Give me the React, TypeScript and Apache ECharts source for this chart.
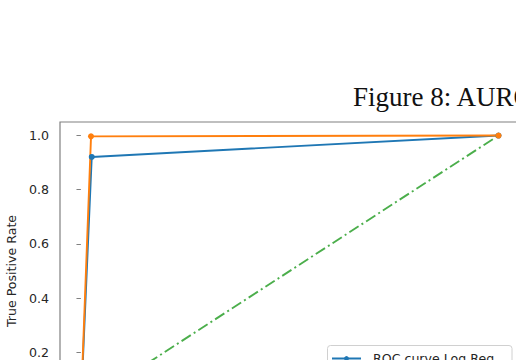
import React, { useEffect, useRef } from "react";
import * as echarts from "echarts";

const figureCaption = "Figure 8: AUROC";
const yAxisName = "True Positive Rate";
const yTicks = [0, 0.2, 0.4, 0.6, 0.8, 1.0];
const xTicks = [0, 0.2, 0.4, 0.6, 0.8, 1.0];

const logRegName = "ROC curve Log Reg";
const logRegFpr = [0, 0.026, 1];
const logRegTpr = [0, 0.921, 1];

const otherName = "ROC curve model 2";
const otherFpr = [0, 0.0243, 1];
const otherTpr = [0, 0.997, 1];

const chanceFpr = [0, 1];
const chanceTpr = [0, 1];

const pairs = (xs: number[], ys: number[]) => xs.map((x, i) => [x, ys[i]]);

export default function App() {
  const ref = useRef<HTMLDivElement>(null);
  useEffect(() => {
    if (!ref.current) return;
    const chart = echarts.init(ref.current, null, { renderer: "svg" });
    const spine = "#808080";
    const textColor = "#262626";
    const font = "DejaVu Sans";
    chart.setOption({
      animation: false,
      backgroundColor: "#ffffff",
      title: {
        text: figureCaption,
        left: 353,
        top: 83,
        padding: 0,
        textStyle: {
          fontFamily: "Liberation Serif",
          fontSize: 27,
          fontWeight: "normal",
          color: "#111111",
        },
      },
      grid: {
        left: 60,
        top: 122,
        width: 459.4,
        height: 298,
        show: true,
        borderColor: spine,
        borderWidth: 1.2,
        backgroundColor: "transparent",
        containLabel: false,
        outerBoundsMode: "none",
      },
      xAxis: {
        type: "value",
        min: -0.05,
        max: 1.05,
        axisLine: { show: false },
        splitLine: { show: false },
        axisTick: { show: true, customValues: xTicks, length: 4.4, lineStyle: { color: spine } },
        axisLabel: { show: false, customValues: xTicks },
      },
      yAxis: {
        type: "value",
        min: -0.05,
        max: 1.05,
        name: yAxisName,
        nameLocation: "middle",
        nameGap: 37,
        nameTextStyle: { fontFamily: font, fontSize: 12.6, color: textColor },
        axisLine: { show: false },
        splitLine: { show: false },
        axisTick: { show: true, customValues: yTicks, length: 4.4, lineStyle: { color: spine, width: 1 } },
        axisLabel: {
          customValues: yTicks,
          formatter: (v: number) => v.toFixed(1),
          margin: 11,
          fontFamily: font,
          fontSize: 12.6,
          color: textColor,
        },
      },
      legend: {
        data: [logRegName],
        orient: "vertical",
        left: 331,
        top: 352,
        padding: 0,
        itemWidth: 29,
        itemHeight: 6,
        textStyle: { fontFamily: font, fontSize: 12.6, color: textColor, padding: [0, 0, 0, 7] },
      },
      graphic: [
        {
          type: "rect",
          z: 3,
          shape: { x: 327.5, y: 345.5, width: 184.5, height: 60, r: 3 },
          style: { fill: "rgba(255,255,255,0.8)", stroke: "#d0d0d0", lineWidth: 1 },
        },
      ],
      series: [
        {
          name: "chance",
          type: "line",
          data: pairs(chanceFpr, chanceTpr),
          showSymbol: false,
          symbol: "none",
          lineStyle: { color: "#2ca02c", width: 1.9, type: [11, 3.5, 2, 3.5], opacity: 0.85 },
          itemStyle: { color: "#2ca02c" },
        },
        {
          name: logRegName,
          type: "line",
          data: pairs(logRegFpr, logRegTpr),
          symbol: "circle",
          symbolSize: 6,
          lineStyle: { color: "#1f77b4", width: 1.9 },
          itemStyle: { color: "#1f77b4" },
        },
        {
          name: otherName,
          type: "line",
          data: pairs(otherFpr, otherTpr),
          symbol: "circle",
          symbolSize: 6,
          lineStyle: { color: "#ff7f0e", width: 1.9 },
          itemStyle: { color: "#ff7f0e" },
        },
      ],
    });
    return () => chart.dispose();
  }, []);
  return (
    <div
      ref={ref}
      style={{ position: "absolute", left: 0, top: 0, width: 516, height: 360, overflow: "hidden" }}
    />
  );
}
